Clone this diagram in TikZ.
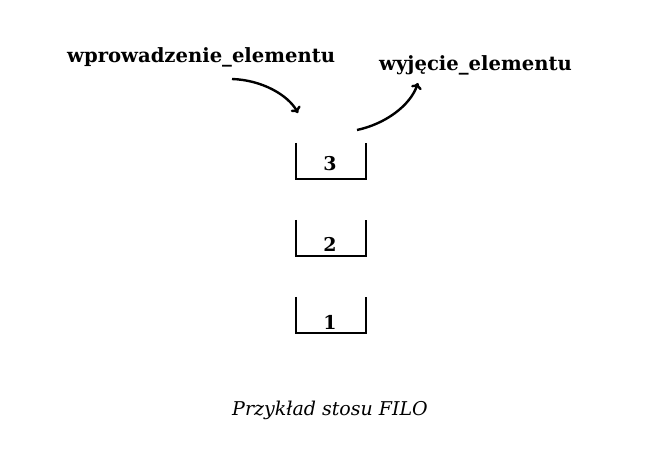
\documentclass[tikz,border=0pt]{standalone}
\usepackage{fontspec}
\setmainfont{DejaVu Serif}
\usetikzlibrary{arrows.meta}
\begin{document}
\begin{tikzpicture}[x=1pt,y=-1pt,
  lbl/.style={font=\bfseries\fontsize{19.6}{22}\selectfont, inner sep=0pt, anchor=base west},
  num/.style={font=\bfseries\fontsize{19}{22}\selectfont, inner sep=0pt, anchor=base},
  cup/.style={line width=2.2pt, line cap=butt},
  arr/.style={line width=2.4pt, -{To[length=6pt,width=11pt]}}]
\useasboundingbox (0,0) rectangle (657,449);
\node[lbl] (put) at (67,63) {wprowadzenie\_elementu};
\node[lbl] (get) at (379,71) {wyjęcie\_elementu};
\foreach \t/\n/\b in {143/3/171,220/2/252,297/1/330}{
  \draw[cup] (296,\t) -- (296,\t+36) -- (366,\t+36) -- (366,\t);
  \node[num] (n\n) at (330,\b) {\n};
}
\coordinate (a1) at (232,79);
\coordinate (a2) at (298,113);
\coordinate (b1) at (357,130);
\coordinate (b2) at (418,83);
\draw[arr] (a1) .. controls (262,80) and (288,95) .. (a2);
\draw[arr] (b1) .. controls (385,124) and (410,106) .. (b2);
\node[font=\itshape\fontsize{19}{22}\selectfont, inner sep=0pt] (cap) at (330,410) {Przykład stosu FILO};
\end{tikzpicture}
\end{document}
